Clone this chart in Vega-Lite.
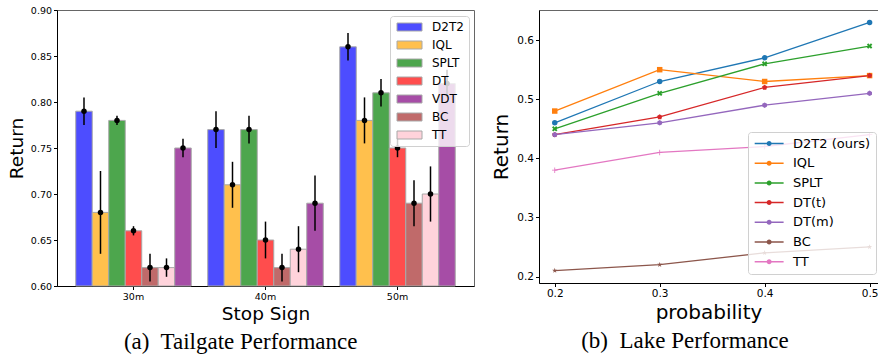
{
  "$schema": "https://vega.github.io/schema/vega-lite/v6.json",
  "padding": {"left": 6, "top": 4, "right": 0, "bottom": 0},
  "bounds": "flush",
  "spacing": 65,
  "config": {
    "font": "DejaVu Sans",
    "view": {"stroke": "#666", "strokeWidth": 1},
    "axis": {"domainColor": "#000", "tickColor": "#000", "labelColor": "#000", "titleColor": "#000", "grid": false, "titleFontWeight": "normal", "tickSize": 3.5, "domainWidth": 1}
  },
  "resolve": {"scale": {"color": "independent"}},
  "hconcat": [
    {
      "width": 417,
      "height": 276,
      "title": {"text": "(a)\u00a0 Tailgate Performance", "orient": "bottom", "font": "Liberation Serif", "fontSize": 23, "fontWeight": "normal", "color": "#000", "frame": "bounds", "anchor": "middle", "offset": 8},
      "data": {"values": [
        {"cond": "30m", "method": "D2T2", "value": 0.79, "lo": 0.775, "hi": 0.805},
        {"cond": "30m", "method": "IQL", "value": 0.68, "lo": 0.635, "hi": 0.725},
        {"cond": "30m", "method": "SPLT", "value": 0.78, "lo": 0.775, "hi": 0.785},
        {"cond": "30m", "method": "DT", "value": 0.66, "lo": 0.655, "hi": 0.665},
        {"cond": "30m", "method": "BC", "value": 0.62, "lo": 0.605, "hi": 0.635},
        {"cond": "30m", "method": "TT", "value": 0.62, "lo": 0.61, "hi": 0.63},
        {"cond": "30m", "method": "VDT", "value": 0.75, "lo": 0.74, "hi": 0.76},
        {"cond": "40m", "method": "D2T2", "value": 0.77, "lo": 0.75, "hi": 0.79},
        {"cond": "40m", "method": "IQL", "value": 0.71, "lo": 0.685, "hi": 0.735},
        {"cond": "40m", "method": "SPLT", "value": 0.77, "lo": 0.755, "hi": 0.785},
        {"cond": "40m", "method": "DT", "value": 0.65, "lo": 0.63, "hi": 0.67},
        {"cond": "40m", "method": "BC", "value": 0.62, "lo": 0.605, "hi": 0.635},
        {"cond": "40m", "method": "TT", "value": 0.64, "lo": 0.615, "hi": 0.665},
        {"cond": "40m", "method": "VDT", "value": 0.69, "lo": 0.66, "hi": 0.72},
        {"cond": "50m", "method": "D2T2", "value": 0.86, "lo": 0.845, "hi": 0.875},
        {"cond": "50m", "method": "IQL", "value": 0.78, "lo": 0.755, "hi": 0.805},
        {"cond": "50m", "method": "SPLT", "value": 0.81, "lo": 0.795, "hi": 0.825},
        {"cond": "50m", "method": "DT", "value": 0.75, "lo": 0.74, "hi": 0.76},
        {"cond": "50m", "method": "BC", "value": 0.69, "lo": 0.665, "hi": 0.715},
        {"cond": "50m", "method": "TT", "value": 0.70, "lo": 0.67, "hi": 0.73},
        {"cond": "50m", "method": "VDT", "value": 0.82, "lo": 0.805, "hi": 0.835}
      ]},
      "encoding": {
        "x": {"field": "cond", "type": "nominal", "scale": {"paddingInner": 0.125, "paddingOuter": 0.142},
              "axis": {"title": "Stop Sign", "labelAngle": 0, "labelFontSize": 9.5, "labelPadding": 2, "titleFontSize": 18.5, "titlePadding": 3}},
        "xOffset": {"field": "method", "type": "nominal", "scale": {"domain": ["D2T2", "IQL", "SPLT", "DT", "BC", "TT", "VDT"], "paddingInner": 0, "paddingOuter": 0}}
      },
      "layer": [
        {
          "mark": {"type": "bar", "stroke": "#a8a8a8", "strokeWidth": 1},
          "encoding": {
            "y": {"field": "value", "type": "quantitative", "scale": {"domain": [0.6, 0.9], "zero": false, "nice": false},
                  "axis": {"title": "Return", "values": [0.6, 0.65, 0.7, 0.75, 0.8, 0.85, 0.9], "format": ".2f", "labelFontSize": 9.5, "labelPadding": 2, "titleFontSize": 18.5, "titlePadding": 4}},
            "y2": {"datum": 0.6},
            "color": {"field": "method", "type": "nominal",
              "scale": {"domain": ["D2T2", "IQL", "SPLT", "DT", "VDT", "BC", "TT"], "range": ["#4d4dff", "#ffc04d", "#4da64d", "#ff4d4d", "#a64da6", "#c06a6a", "#ffd3db"]},
              "legend": {"title": null, "orient": "none", "legendX": 333, "legendY": 6, "symbolType": "M-1,-1H5.25V1H-1Z", "symbolSize": 64, "symbolStrokeColor": "#a8a8a8", "symbolStrokeWidth": 1, "symbolOpacity": 1, "labelFontSize": 12, "labelColor": "#000", "labelOffset": 25, "rowPadding": 6, "padding": 5, "strokeColor": "#d0d0d0", "fillColor": "rgba(255,255,255,0.8)", "cornerRadius": 3}}
          }
        },
        {
          "mark": {"type": "rule", "color": "#000", "strokeWidth": 1.5},
          "encoding": {
            "y": {"field": "lo", "type": "quantitative"},
            "y2": {"field": "hi"}
          }
        },
        {
          "mark": {"type": "point", "filled": true, "color": "#000", "size": 30, "opacity": 1},
          "encoding": {
            "y": {"field": "value", "type": "quantitative"}
          }
        }
      ]
    },
    {
      "width": 339,
      "height": 273,
      "title": {"text": "(b)\u00a0 Lake Performance", "orient": "bottom", "font": "Liberation Serif", "fontSize": 23, "fontWeight": "normal", "color": "#000", "frame": "bounds", "anchor": "middle", "offset": 8},
      "data": {"values": [
        {"p": 0.2, "algo": "D2T2 (ours)", "ret": 0.46}, {"p": 0.3, "algo": "D2T2 (ours)", "ret": 0.53}, {"p": 0.4, "algo": "D2T2 (ours)", "ret": 0.57}, {"p": 0.5, "algo": "D2T2 (ours)", "ret": 0.63},
        {"p": 0.2, "algo": "IQL", "ret": 0.48}, {"p": 0.3, "algo": "IQL", "ret": 0.55}, {"p": 0.4, "algo": "IQL", "ret": 0.53}, {"p": 0.5, "algo": "IQL", "ret": 0.54},
        {"p": 0.2, "algo": "SPLT", "ret": 0.45}, {"p": 0.3, "algo": "SPLT", "ret": 0.51}, {"p": 0.4, "algo": "SPLT", "ret": 0.56}, {"p": 0.5, "algo": "SPLT", "ret": 0.59},
        {"p": 0.2, "algo": "DT(t)", "ret": 0.44}, {"p": 0.3, "algo": "DT(t)", "ret": 0.47}, {"p": 0.4, "algo": "DT(t)", "ret": 0.52}, {"p": 0.5, "algo": "DT(t)", "ret": 0.54},
        {"p": 0.2, "algo": "DT(m)", "ret": 0.44}, {"p": 0.3, "algo": "DT(m)", "ret": 0.46}, {"p": 0.4, "algo": "DT(m)", "ret": 0.49}, {"p": 0.5, "algo": "DT(m)", "ret": 0.51},
        {"p": 0.2, "algo": "BC", "ret": 0.21}, {"p": 0.3, "algo": "BC", "ret": 0.22}, {"p": 0.4, "algo": "BC", "ret": 0.24}, {"p": 0.5, "algo": "BC", "ret": 0.25},
        {"p": 0.2, "algo": "TT", "ret": 0.38}, {"p": 0.3, "algo": "TT", "ret": 0.41}, {"p": 0.4, "algo": "TT", "ret": 0.42}, {"p": 0.5, "algo": "TT", "ret": 0.44}
      ]},
      "encoding": {
        "x": {"field": "p", "type": "quantitative", "scale": {"domain": [0.185, 0.508], "nice": false, "zero": false},
              "axis": {"title": "probability", "values": [0.2, 0.3, 0.4, 0.5], "format": ".1f", "labelFontSize": 10.5, "labelPadding": 2, "titleFontSize": 20, "titlePadding": 3}},
        "y": {"field": "ret", "type": "quantitative", "scale": {"domain": [0.189, 0.651], "nice": false, "zero": false},
              "axis": {"title": "Return", "values": [0.2, 0.3, 0.4, 0.5, 0.6], "format": ".1f", "labelFontSize": 10.5, "labelPadding": 2, "titleFontSize": 20, "titlePadding": 5}},
        "color": {"field": "algo", "type": "nominal",
          "scale": {"domain": ["D2T2 (ours)", "IQL", "SPLT", "DT(t)", "DT(m)", "BC", "TT"], "range": ["#1f77b4", "#ff7f0e", "#2ca02c", "#d62728", "#9467bd", "#8c564b", "#e377c2"]},
          "legend": {"title": null, "orient": "none", "legendX": 209, "legendY": 122, "symbolType": "M-1,-0.155H5V0.155H-1Z M1.48,0 A0.52,0.52 0 1,1 2.52,0 A0.52,0.52 0 1,1 1.48,0 Z", "symbolSize": 93, "symbolStrokeWidth": 0, "symbolOpacity": 1, "labelFontSize": 13, "labelColor": "#000", "labelOffset": 27, "rowPadding": 5.7, "padding": 5, "strokeColor": "#d0d0d0", "fillColor": "rgba(255,255,255,0.8)", "cornerRadius": 3}}
      },
      "layer": [
        {"mark": {"type": "line", "strokeWidth": 1.3}},
        {
          "mark": {"type": "point", "filled": true, "size": 30, "opacity": 1},
          "encoding": {
            "shape": {"field": "algo", "type": "nominal", "legend": null,
              "scale": {"domain": ["D2T2 (ours)", "IQL", "SPLT", "DT(t)", "DT(m)", "BC", "TT"],
                "range": ["circle", "square",
                  "M-1,-0.5L-0.5,-1L0,-0.5L0.5,-1L1,-0.5L0.5,0L1,0.5L0.5,1L0,0.5L-0.5,1L-1,0.5L-0.5,0Z",
                  "M0,-1L0.951,-0.309L0.588,0.809L-0.588,0.809L-0.951,-0.309Z",
                  "M0,-1L0.866,-0.5L0.866,0.5L0,1L-0.866,0.5L-0.866,-0.5Z",
                  "M0,-1L0.223,-0.307L0.951,-0.309L0.361,0.117L0.588,0.809L0,0.38L-0.588,0.809L-0.361,0.117L-0.951,-0.309L-0.223,-0.307Z",
                  "M-1,-0.15H1V0.15H-1Z M-0.15,-1H0.15V1H-0.15Z"]}}
          }
        }
      ]
    }
  ]
}
